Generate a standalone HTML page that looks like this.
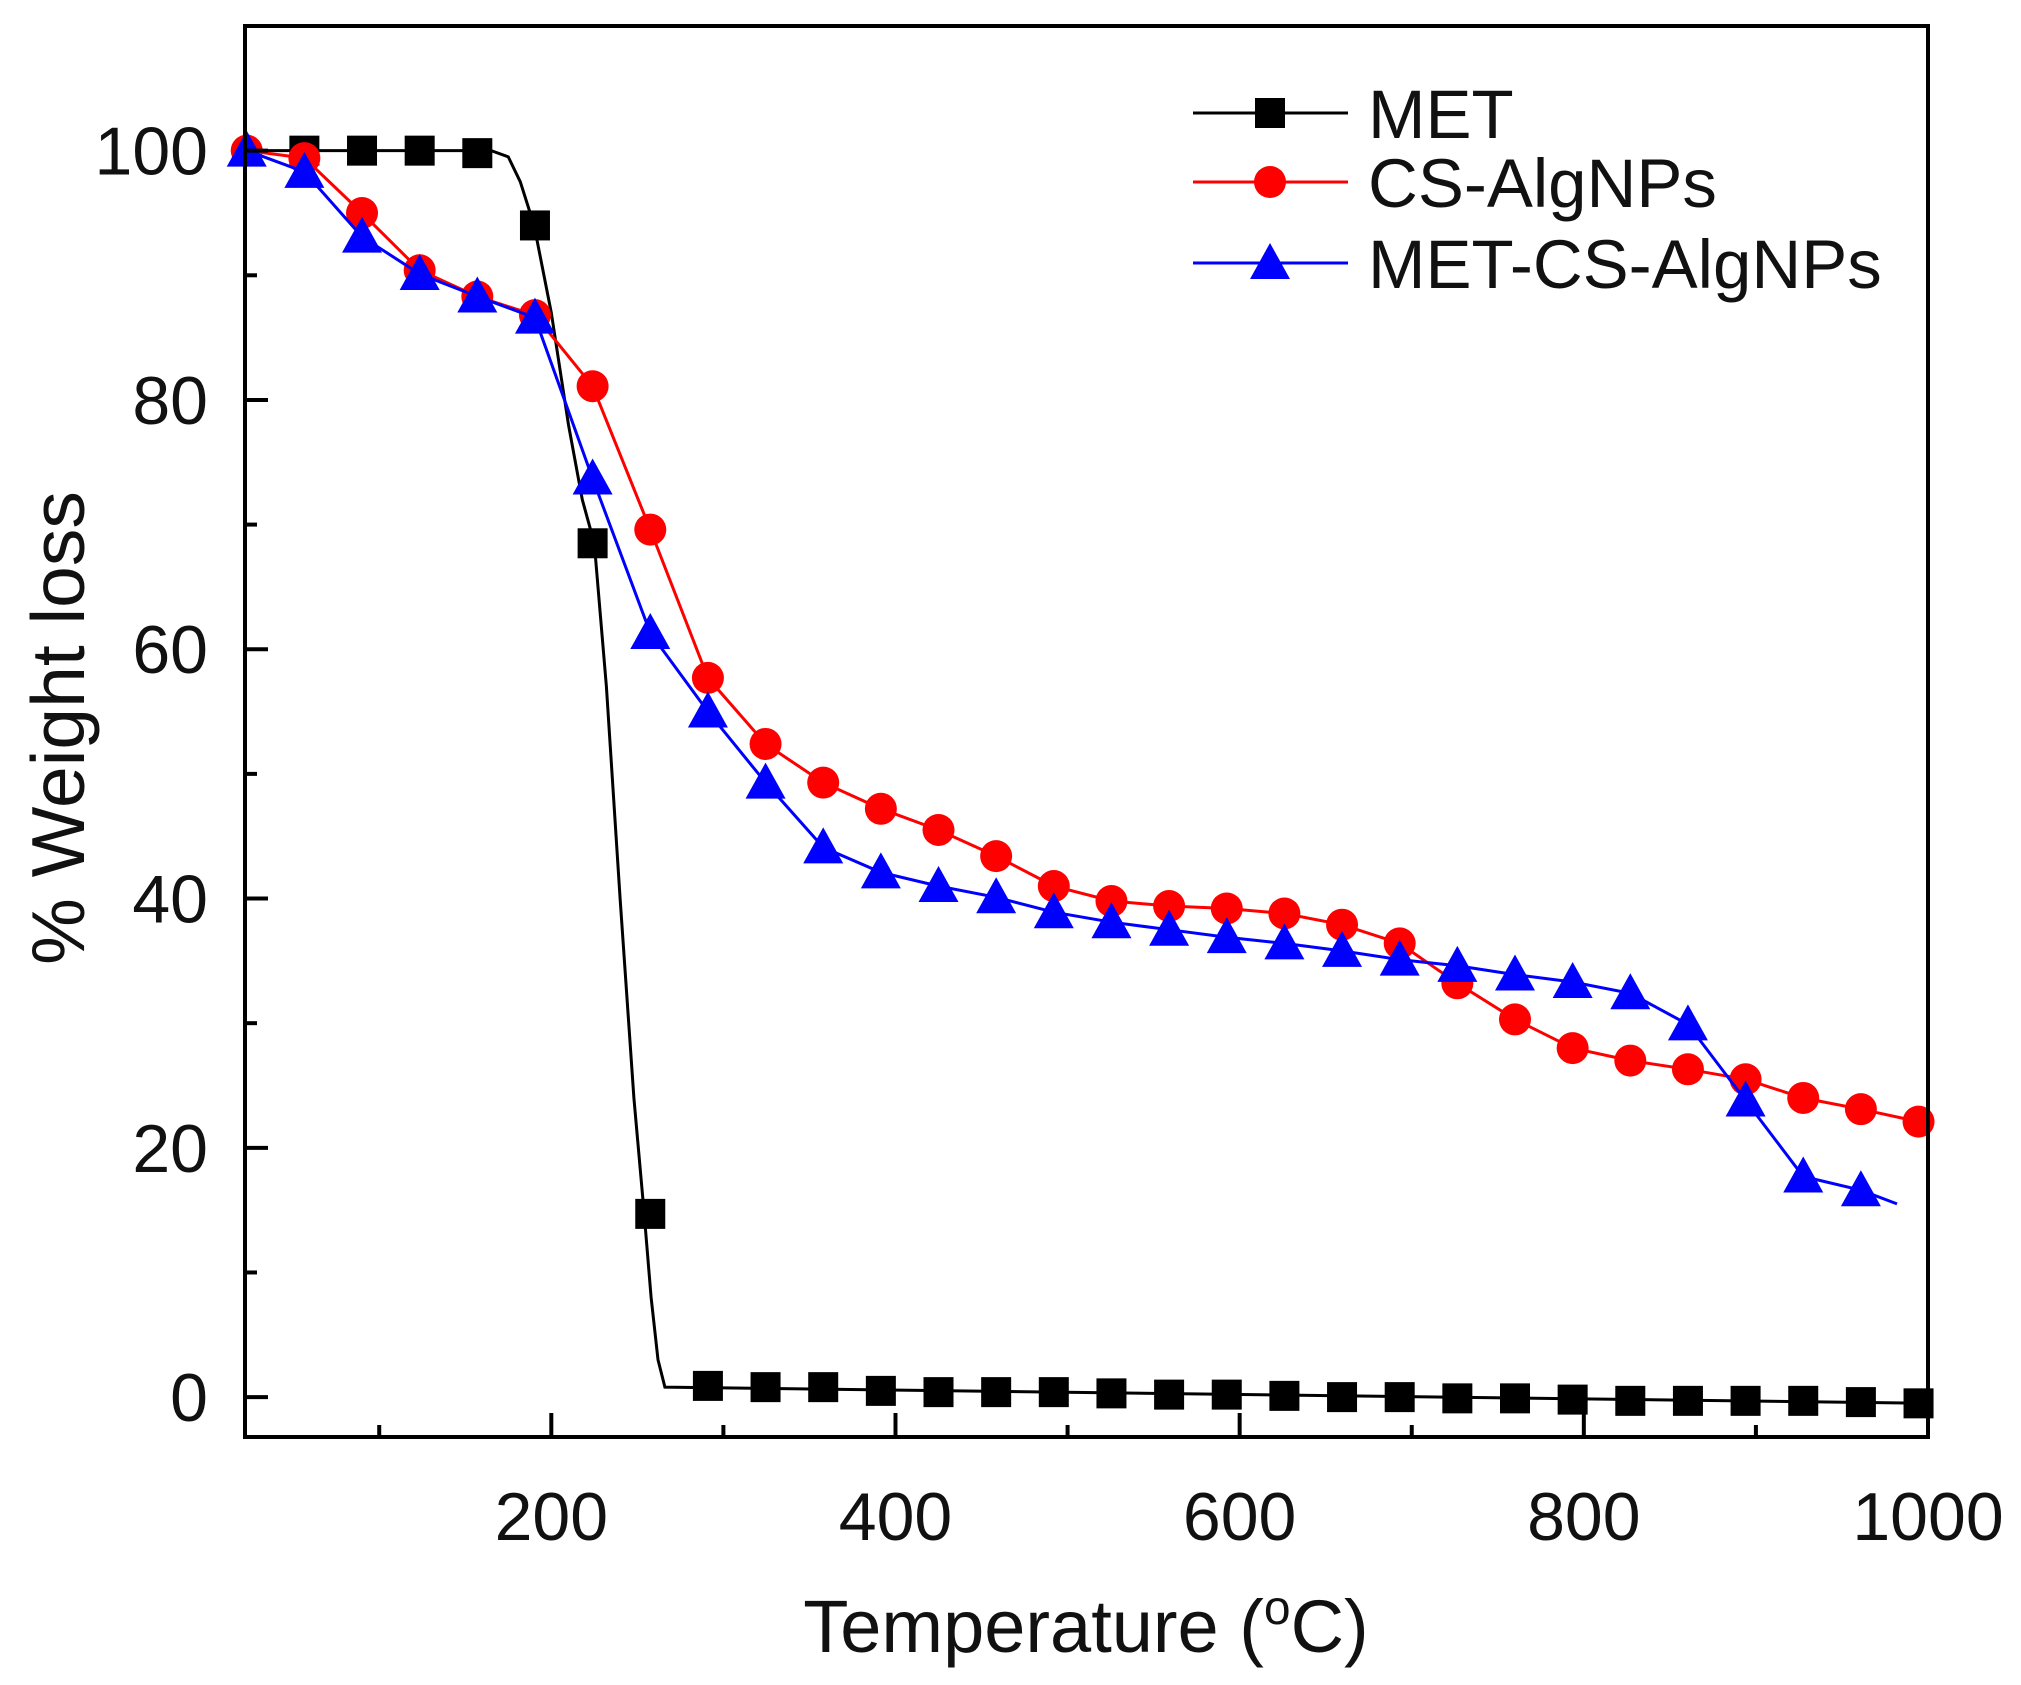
<!DOCTYPE html>
<html><head><meta charset="utf-8"><style>
html,body{margin:0;padding:0;background:#fff;}
svg{display:block;}
text{font-family:"Liberation Sans",sans-serif;fill:#111;}
</style></head><body>
<svg id="chart" width="2021" height="1685" viewBox="0 0 2021 1685" xmlns="http://www.w3.org/2000/svg">
<g id="grid"></g>
<g id="series"></g>
<g id="axes"></g>
<g id="legend"></g>
</svg>
<script>
// ---- data ----
const xTicks = [200, 400, 600, 800, 1000];
const xMinor = [100, 300, 500, 700, 900];
const yTicks = [0, 20, 40, 60, 80, 100];
const yMinor = [10, 30, 50, 70, 90];
const seriesNames = ["MET", "CS-AlgNPs", "MET-CS-AlgNPs"];
const markerTemps = [23,56.5,90,123.5,157,190.5,224,257.5,291,324.5,358,391.5,425,458.5,492,525.5,559,592.5,626,659.5,693,726.5,760,793.5,827,860.5,894,927.5,961,994.5];
const metLineT = [23,165,175,182,190,200,210,218,225,232,240,248,254,258,262,266,1000];
const metLineV = [100,100,99.5,97.5,94,87,78,72,68.5,57,40,24,14.7,8,3,0.8,-0.5];
const metMarkT = [56.5,90,123.5,157,190.5,224,257.5,291,324.5,358,391.5,425,458.5,492,525.5,559,592.5,626,659.5,693,726.5,760,793.5,827,860.5,894,927.5,961,994.5];
const metMarkV = [100,100,100,99.8,94,68.5,14.7,0.9,0.8,0.8,0.5,0.4,0.4,0.4,0.3,0.2,0.2,0.1,0,0,-0.1,-0.1,-0.2,-0.3,-0.3,-0.3,-0.3,-0.4,-0.5];
const csVals = [100,99.4,95,90.4,88.3,86.8,81.1,69.6,57.7,52.4,49.3,47.2,45.5,43.4,41.0,39.8,39.4,39.2,38.8,37.9,36.4,33.2,30.3,28.0,27.0,26.3,25.5,24.0,23.1,22.1];
const metCsVals = [100,98.3,93.1,90.1,88.3,86.6,73.7,61.3,55.0,49.3,44.1,42.1,41.0,40.1,38.9,38.1,37.5,36.9,36.4,35.8,35.1,34.6,33.9,33.3,32.4,29.9,23.8,17.7,16.6];
const metCsEndT = 982;
const metCsEndV = 15.5;

// ---- scales ----
const X0=245, X1=1928, Y0=26, Y1=1437;
const xMin=22, xMax=1000, yMin=-3.2, yMax=110;
const sx = v => X0 + (v - xMin) / (xMax - xMin) * (X1 - X0);
const sy = v => Y1 - (v - yMin) / (yMax - yMin) * (Y1 - Y0);
const NS = "http://www.w3.org/2000/svg";
function mk(tag, attrs, parent){const e=document.createElementNS(NS,tag);for(const k in attrs)e.setAttribute(k,attrs[k]);parent.appendChild(e);return e;}
const series=document.getElementById('series'), axes=document.getElementById('axes'), legend=document.getElementById('legend');

function poly(ts, vs, color, name){
  const p = ts.map((t,i)=>sx(t).toFixed(1)+','+sy(vs[i]).toFixed(1)).join(' ');
  const e = mk('polyline',{points:p,fill:'none',stroke:color,'stroke-width':3},series);
  
  
}
function square(cx,cy,col,g){const e=mk('rect',{x:cx-15,y:cy-15,width:30,height:30,fill:col},g);return e;}
function circle(cx,cy,col,g){return mk('circle',{cx:cx,cy:cy,r:16,fill:col},g);}
function tri(cx,cy,col,g){return mk('polygon',{points:`${cx},${cy-22} ${cx+20},${cy+14} ${cx-20},${cy+14}`,fill:col},g);}

// MET
poly(metLineT, metLineV, '#000', 'met-line');
metMarkT.forEach((t,i)=>{const e=square(sx(t),sy(metMarkV[i]),'#000',series);
  
  });
// CS-AlgNPs
poly(markerTemps, csVals, '#f00', 'cs-algnps-line');
csVals.forEach((v,i)=>{const e=circle(sx(markerTemps[i]),sy(v),'#f00',series);
  
  });
// MET-CS-AlgNPs
poly(markerTemps.slice(0,metCsVals.length).concat([metCsEndT]), metCsVals.concat([metCsEndV]), '#00f', 'met-cs-algnps-line');
metCsVals.forEach((v,i)=>{const e=tri(sx(markerTemps[i]),sy(v)+2,'#00f',series);
  
  });

// axes box
const box=mk('rect',{x:X0,y:Y0,width:X1-X0,height:Y1-Y0,fill:'none',stroke:'#000','stroke-width':4},axes);


xTicks.forEach(t=>{const x=sx(t);
  mk('line',{x1:x,y1:Y1,x2:x,y2:Y1-24,stroke:'#000','stroke-width':4},axes);
  const tx=mk('text',{x:x,y:1540,'text-anchor':'middle','font-size':68},axes);tx.textContent=t;
  
  });
xMinor.forEach(t=>{const x=sx(t);mk('line',{x1:x,y1:Y1,x2:x,y2:Y1-12,stroke:'#000','stroke-width':4},axes);});
yTicks.forEach(t=>{const y=sy(t);
  mk('line',{x1:X0,y1:y,x2:X0+23,y2:y,stroke:'#000','stroke-width':4},axes);
  const tx=mk('text',{x:208,y:y+24,'text-anchor':'end','font-size':68},axes);tx.textContent=t;
  
  });
yMinor.forEach(t=>{const y=sy(t);mk('line',{x1:X0,y1:y,x2:X0+12,y2:y,stroke:'#000','stroke-width':4},axes);});

// axis titles
const xt=mk('text',{x:1086,y:1652,'text-anchor':'middle','font-size':74},axes);
xt.innerHTML='Temperature (<tspan dy="-28" font-size="48">o</tspan><tspan dy="28">C)</tspan>';


const yt=mk('text',{x:0,y:0,'text-anchor':'middle','font-size':75,transform:'translate(84,728) rotate(-90)'},axes);
yt.textContent='% Weight loss';



// legend
const cols=['#000','#f00','#00f'], ly=[113,182,263], shapes=[square,circle,tri];
seriesNames.forEach((n,i)=>{
  const g=mk('g',{},legend);
  
  
  mk('line',{x1:1193,y1:ly[i],x2:1348,y2:ly[i],stroke:cols[i],'stroke-width':3},g);
  shapes[i](1270, i==2?ly[i]+2:ly[i], cols[i], g);
  const t=mk('text',{x:1368,y:ly[i]+25,'font-size':69},g);t.textContent=n;
});
</script>
</body></html>
